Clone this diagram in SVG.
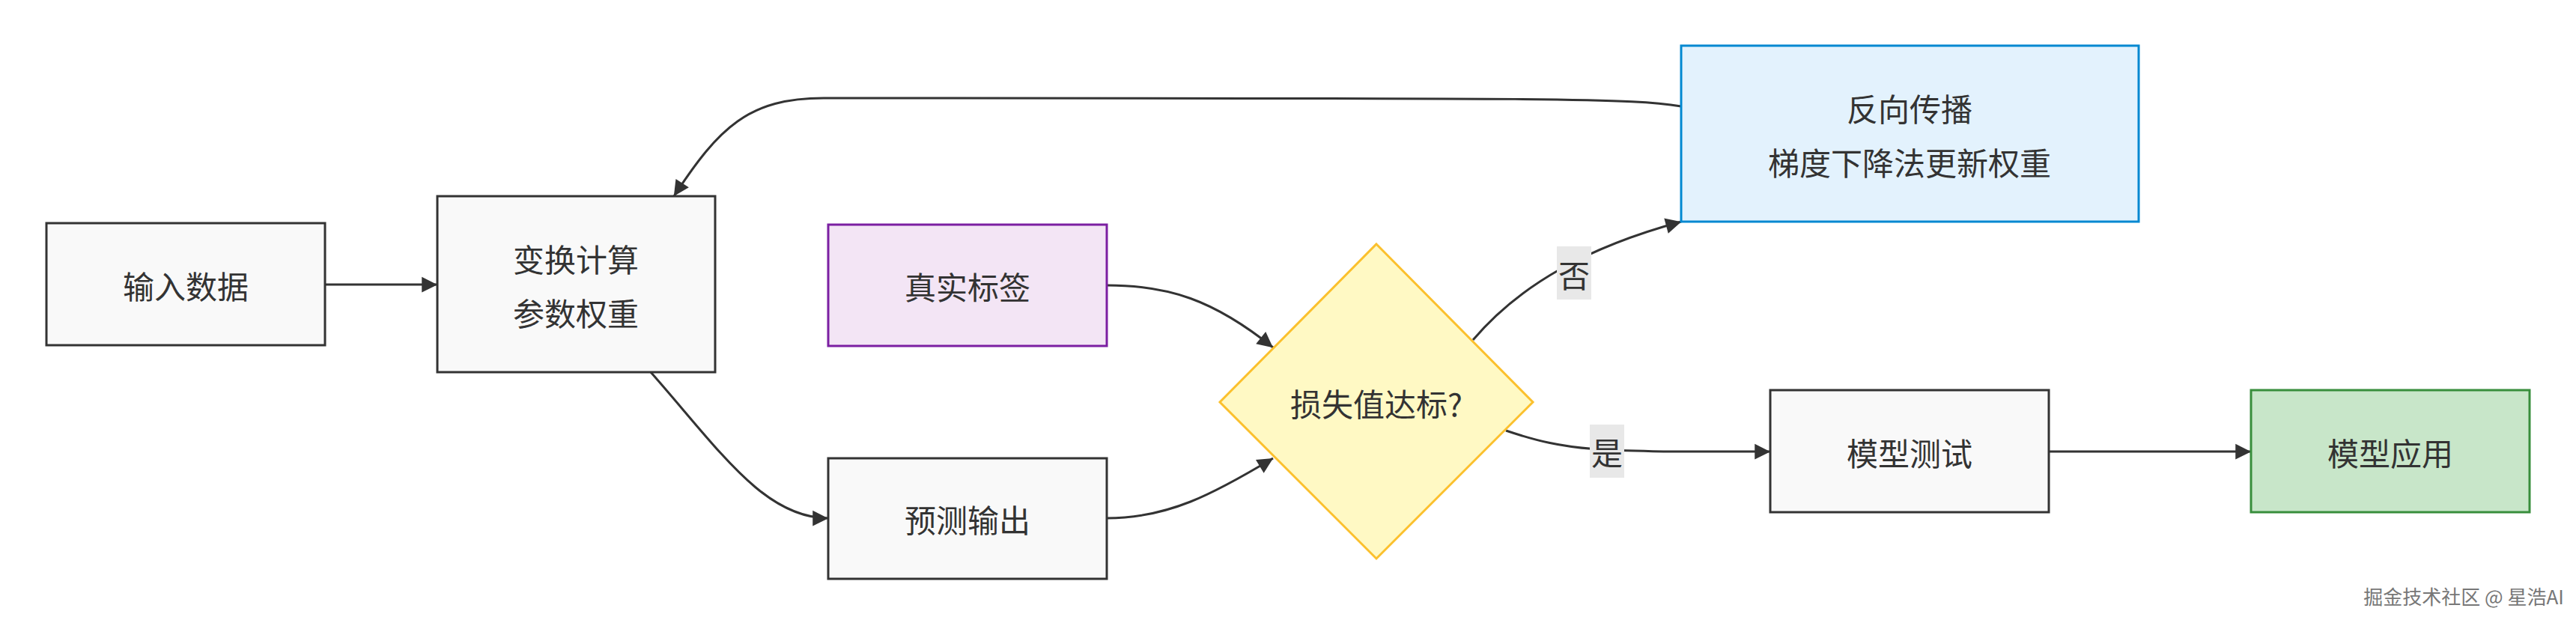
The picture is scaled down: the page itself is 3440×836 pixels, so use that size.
<svg xmlns="http://www.w3.org/2000/svg" width="3440" height="836" viewBox="0 0 3440 836">
<style>
text{font-family:"Noto Sans CJK SC","Liberation Sans",sans-serif;font-size:42px;fill:#333;text-anchor:middle;dominant-baseline:central}
.n{fill:#f9f9f9;stroke:#333;stroke-width:3}
.e{fill:none;stroke:#333;stroke-width:3;marker-end:url(#a)}
.lb{fill:#e8e8e8}
</style>
<defs><marker id="a" viewBox="0 0 10 10" refX="9" refY="5" markerWidth="8" markerHeight="8" markerUnits="userSpaceOnUse" orient="auto" style="overflow:visible"><path d="M0,0L10,5L0,10z" fill="#333" transform="scale(2.6) translate(-6.5,-3)"/></marker></defs>
<rect width="3440" height="836" fill="#fff"/>
<g id="edges">
<path class="e" d="M434,380H584"/>
<path class="e" d="M869,497C960,600 1020,692 1106,692"/>
<path class="e" d="M1478,381C1560,381 1620,400 1700,464"/>
<path class="e" d="M1478,692C1560,692 1620,660 1700,612"/>
<path class="e" d="M1967,454C2030,380 2120,330 2245,296"/>
<path class="e" d="M2011,575C2100,605 2140,603 2364,603"/>
<path class="e" d="M2736,603H3006"/>
<path class="e" d="M2245,142C2180,131 2100,131 1100,131C1000,131 960,170 900,262"/>
<rect class="lb" x="2079" y="329" width="46" height="71"/><text x="2102" y="365">否</text>
<rect class="lb" x="2123" y="567" width="46" height="71"/><text x="2146" y="602">是</text>
</g>
<g id="n1"><rect class="n" x="62" y="298" width="372" height="163"/><text x="248" y="380">输入数据</text></g>
<g id="n2"><rect class="n" x="584" y="262" width="371" height="235"/><text x="769" y="344">变换计算</text><text x="769" y="416">参数权重</text></g>
<g id="n3"><rect x="1106" y="300" width="372" height="162" fill="#f3e5f5" stroke="#7b1fa2" stroke-width="3"/><text x="1292" y="381">真实标签</text></g>
<g id="n4"><rect class="n" x="1106" y="612" width="372" height="161"/><text x="1292" y="692">预测输出</text></g>
<g id="n5"><polygon points="1838,326 2047,537 1838,746 1629,537" fill="#fff9c4" stroke="#fbc02d" stroke-width="3"/><text x="1838" y="537">损失值达标?</text></g>
<g id="n6"><rect x="2245" y="61" width="611" height="235" fill="#e3f2fd" stroke="#0288d1" stroke-width="3"/><text x="2550" y="143">反向传播</text><text x="2550" y="215">梯度下降法更新权重</text></g>
<g id="n7"><rect class="n" x="2364" y="521" width="372" height="163"/><text x="2550" y="603">模型测试</text></g>
<g id="n8"><rect x="3006" y="521" width="372" height="163" fill="#c8e6c9" stroke="#388e3c" stroke-width="3"/><text x="3192" y="603">模型应用</text></g>
<text x="3290" y="795" style="font-size:26px;fill:#777">掘金技术社区 @ 星浩AI</text>
</svg>
